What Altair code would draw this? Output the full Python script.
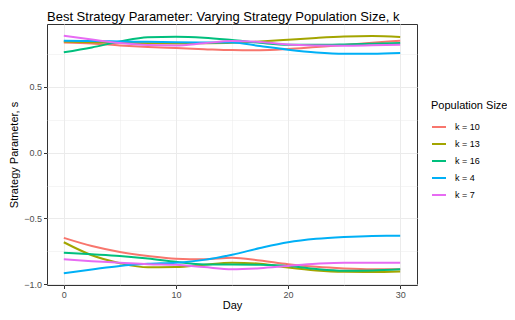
import altair as alt
import pandas as pd

days = [0, 2.5, 5, 7.5, 10, 12.5, 15, 17.5, 20, 22.5, 25, 27.5, 30]
groups = ["k = 10", "k = 13", "k = 16", "k = 4", "k = 7"]
colors = ["#F8766D", "#A3A500", "#00BF7D", "#00B0F6", "#E76BF3"]

upper_k10 = [0.838, 0.830, 0.815, 0.803, 0.795, 0.787, 0.780, 0.779, 0.788, 0.803, 0.818, 0.835, 0.851]
upper_k13 = [0.845, 0.840, 0.835, 0.832, 0.830, 0.832, 0.836, 0.845, 0.858, 0.872, 0.883, 0.887, 0.880]
upper_k16 = [0.763, 0.800, 0.845, 0.878, 0.882, 0.874, 0.856, 0.835, 0.820, 0.820, 0.823, 0.828, 0.833]
upper_k4 = [0.850, 0.848, 0.845, 0.843, 0.840, 0.838, 0.838, 0.810, 0.783, 0.762, 0.752, 0.752, 0.758]
upper_k7 = [0.888, 0.860, 0.833, 0.818, 0.815, 0.832, 0.848, 0.842, 0.822, 0.815, 0.813, 0.816, 0.820]

lower_k10 = [-0.648, -0.710, -0.755, -0.785, -0.806, -0.810, -0.798, -0.820, -0.848, -0.868, -0.880, -0.886, -0.886]
lower_k13 = [-0.681, -0.780, -0.840, -0.872, -0.870, -0.852, -0.836, -0.845, -0.873, -0.895, -0.906, -0.908, -0.903]
lower_k16 = [-0.761, -0.773, -0.786, -0.805, -0.830, -0.850, -0.850, -0.852, -0.861, -0.885, -0.898, -0.895, -0.886]
lower_k4 = [-0.916, -0.888, -0.861, -0.845, -0.836, -0.815, -0.776, -0.725, -0.681, -0.655, -0.641, -0.633, -0.631]
lower_k7 = [-0.811, -0.825, -0.836, -0.848, -0.853, -0.870, -0.886, -0.878, -0.861, -0.845, -0.836, -0.836, -0.836]

uppers = [upper_k10, upper_k13, upper_k16, upper_k4, upper_k7]
lowers = [lower_k10, lower_k13, lower_k16, lower_k4, lower_k7]

x_values = [0, 5, 10, 15, 20, 25, 30]
y_values = [-1.0, -0.75, -0.5, -0.25, 0.0, 0.25, 0.5, 0.75]

rows = []
for g, up, lo in zip(groups, uppers, lowers):
    for d, v in zip(days, up):
        rows.append({"day": d, "s": v, "k": g, "branch": "upper"})
    for d, v in zip(days, lo):
        rows.append({"day": d, "s": v, "k": g, "branch": "lower"})
df = pd.DataFrame(rows)

FONT = "Liberation Sans"
x_major = "datum.value % 10 === 0"
y_major = "abs(datum.value * 2 - round(datum.value * 2)) < 0.001"

x_axis = alt.Axis(
    values=x_values,
    title="Day",
    domain=False,
    grid=True,
    gridColor="#EBEBEB",
    gridWidth={"condition": {"test": x_major, "value": 1.0}, "value": 0.5},
    tickColor="#333333",
    tickSize=3.5,
    tickWidth=1,
    tickOpacity={"condition": {"test": x_major, "value": 1}, "value": 0},
    labelExpr=f"{x_major} ? datum.label : ''",
    labelFont=FONT,
    labelFontSize=9,
    labelColor="#4D4D4D",
    labelPadding=1.5,
    labelFlush=False,
    labelOverlap=False,
    titleFont=FONT,
    titleFontSize=11,
    titleFontWeight="normal",
    titleColor="black",
    titlePadding=0,
)

y_axis = alt.Axis(
    values=y_values,
    title="Strategy Parameter, s",
    domain=False,
    grid=True,
    gridColor="#EBEBEB",
    gridWidth={"condition": {"test": y_major, "value": 1.0}, "value": 0.5},
    tickColor="#333333",
    tickSize=3.5,
    tickWidth=1,
    tickOpacity={"condition": {"test": y_major, "value": 1}, "value": 0},
    labelExpr=f"{y_major} ? format(datum.value, '.1f') : ''",
    labelFont=FONT,
    labelFontSize=9,
    labelColor="#4D4D4D",
    labelPadding=2,
    labelFlush=False,
    labelOverlap=False,
    titleFont=FONT,
    titleFontSize=11,
    titleFontWeight="normal",
    titleColor="black",
    titlePadding=4,
)

chart = (
    alt.Chart(df)
    .mark_line(interpolate="monotone", strokeWidth=2)
    .encode(
        x=alt.X("day:Q", scale=alt.Scale(domain=[-1.5, 31.5], nice=False, zero=False), axis=x_axis),
        y=alt.Y("s:Q", scale=alt.Scale(domain=[-1.006, 0.978], nice=False, zero=False), axis=y_axis),
        color=alt.Color(
            "k:N",
            scale=alt.Scale(domain=groups, range=colors),
            legend=alt.Legend(
                title="Population Size",
                orient="none",
                legendX=384,
                legendY=76,
                symbolType="stroke",
                symbolStrokeWidth=2,
                symbolSize=196,
                titleFont=FONT,
                titleFontSize=11,
                titleFontWeight="normal",
                titleColor="black",
                labelFont=FONT,
                labelFontSize=9,
                labelColor="black",
                rowPadding=4,
                titlePadding=8,
                labelOffset=8,
                padding=0,
            ),
        ),
        detail="branch:N",
    )
    .properties(
        width=370,
        height=261,
        title=alt.TitleParams(
            "Best Strategy Parameter: Varying Strategy Population Size, k",
            anchor="start",
            frame="group",
            font=FONT,
            fontSize=13,
            fontWeight="normal",
            color="black",
            offset=0,
        ),
        padding={"left": 39, "top": 16, "right": 90, "bottom": 27},
        autosize=alt.AutoSizeParams(type="none"),
    )
    .configure_view(stroke="#333333", strokeWidth=1)
)

chart.save("out.html", embed_options={"renderer": "svg", "actions": False})
